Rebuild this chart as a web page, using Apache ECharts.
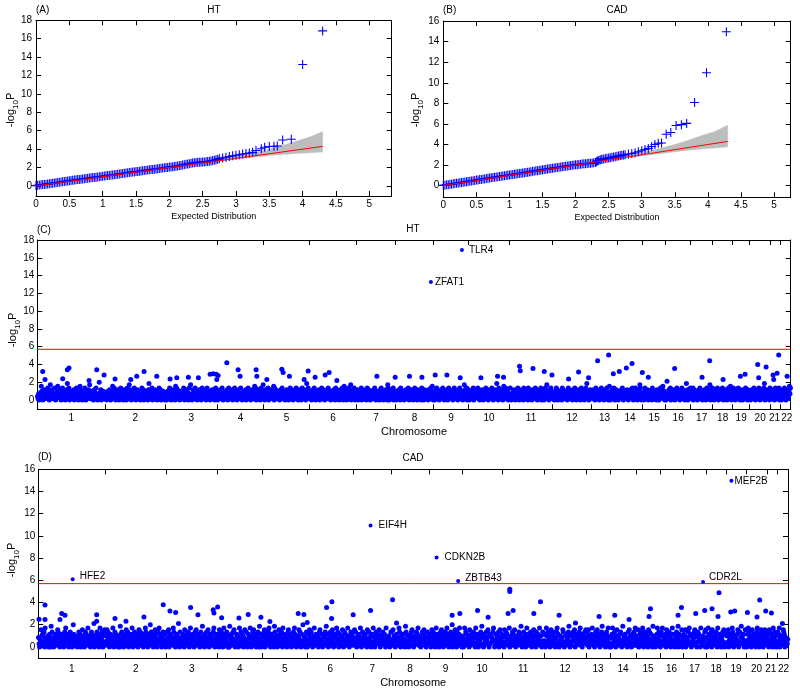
<!DOCTYPE html>
<html><head><meta charset="utf-8">
<script src="https://cdn.jsdelivr.net/npm/echarts@6/dist/echarts.min.js"></script>
<style>html,body{margin:0;padding:0;background:#fff}#c{width:800px;height:692px}</style>
</head><body><div id="c"></div>
<script>
// ================= DATA =================
const QQ_X_TICKS = [0, 0.5, 1, 1.5, 2, 2.5, 3, 3.5, 4, 4.5, 5];
const QQ_HT_Y_TICKS = [0, 2, 4, 6, 8, 10, 12, 14, 16, 18];
const QQ_CAD_Y_TICKS = [0, 2, 4, 6, 8, 10, 12, 14, 16];
// observed vs expected -log10 p (HT)
const QQ_HT = [[0,0.04],[0.025,0.07],[0.05,0.1],[0.075,0.12],[0.1,0.15],[0.125,0.17],[0.15,0.2],[0.175,0.22],[0.2,0.25],[0.225,0.28],[0.25,0.3],[0.275,0.33],[0.3,0.36],[0.325,0.38],[0.35,0.41],[0.375,0.43],[0.4,0.46],[0.425,0.49],[0.45,0.52],[0.475,0.54],[0.5,0.57],[0.525,0.6],[0.55,0.62],[0.575,0.65],[0.6,0.67],[0.625,0.69],[0.65,0.71],[0.675,0.74],[0.7,0.76],[0.725,0.79],[0.75,0.81],[0.775,0.84],[0.8,0.86],[0.825,0.88],[0.85,0.91],[0.875,0.93],[0.9,0.96],[0.925,0.98],[0.95,1.01],[0.975,1.03],[1.0,1.06],[1.025,1.08],[1.05,1.1],[1.075,1.13],[1.1,1.15],[1.125,1.18],[1.15,1.2],[1.175,1.22],[1.2,1.25],[1.225,1.27],[1.25,1.3],[1.275,1.32],[1.3,1.35],[1.325,1.38],[1.35,1.41],[1.375,1.43],[1.4,1.46],[1.425,1.48],[1.45,1.51],[1.475,1.53],[1.5,1.56],[1.525,1.58],[1.55,1.6],[1.575,1.63],[1.6,1.65],[1.625,1.67],[1.65,1.7],[1.675,1.73],[1.7,1.76],[1.725,1.78],[1.75,1.8],[1.775,1.82],[1.8,1.85],[1.825,1.87],[1.85,1.9],[1.875,1.92],[1.9,1.95],[1.925,1.97],[1.95,2.0],[1.975,2.02],[2.0,2.05],[2.025,2.07],[2.05,2.1],[2.075,2.12],[2.1,2.15],[2.125,2.17],[2.15,2.2],[2.175,2.23],[2.2,2.27],[2.225,2.31],[2.25,2.35],[2.275,2.38],[2.3,2.42],[2.325,2.46],[2.35,2.5],[2.375,2.53],[2.4,2.55],[2.425,2.57],[2.45,2.58],[2.475,2.59],[2.5,2.6],[2.525,2.61],[2.55,2.63],[2.575,2.65],[2.6,2.68],[2.625,2.72],[2.65,2.76],[2.675,2.8],[2.7,2.85],[2.725,2.91],[2.75,2.97],[2.8,3.05],[2.85,3.12],[2.9,3.2],[2.95,3.27],[3.0,3.33],[3.05,3.4],[3.1,3.47],[3.15,3.53],[3.2,3.58],[3.25,3.65],[3.3,3.85],[3.38,4.05],[3.43,4.2],[3.5,4.28],[3.57,4.32],[3.62,4.35],[3.7,5.0],[3.83,5.08],[4.0,13.2],[4.3,16.85]];
// observed vs expected -log10 p (CAD)
const QQ_CAD = [[0,0.03],[0.025,0.05],[0.05,0.08],[0.075,0.1],[0.1,0.13],[0.125,0.15],[0.15,0.18],[0.175,0.2],[0.2,0.23],[0.225,0.25],[0.25,0.28],[0.275,0.3],[0.3,0.33],[0.325,0.35],[0.35,0.38],[0.375,0.41],[0.4,0.44],[0.425,0.46],[0.45,0.49],[0.475,0.51],[0.5,0.54],[0.525,0.56],[0.55,0.59],[0.575,0.61],[0.6,0.64],[0.625,0.66],[0.65,0.69],[0.675,0.71],[0.7,0.74],[0.725,0.76],[0.75,0.79],[0.775,0.81],[0.8,0.84],[0.825,0.86],[0.85,0.89],[0.875,0.91],[0.9,0.94],[0.925,0.96],[0.95,0.99],[0.975,1.01],[1.0,1.04],[1.025,1.06],[1.05,1.09],[1.075,1.11],[1.1,1.14],[1.125,1.16],[1.15,1.19],[1.175,1.21],[1.2,1.24],[1.225,1.26],[1.25,1.29],[1.275,1.31],[1.3,1.34],[1.325,1.36],[1.35,1.39],[1.375,1.41],[1.4,1.44],[1.425,1.46],[1.45,1.49],[1.475,1.51],[1.5,1.54],[1.525,1.56],[1.55,1.59],[1.575,1.61],[1.6,1.64],[1.625,1.66],[1.65,1.69],[1.675,1.71],[1.7,1.74],[1.725,1.76],[1.75,1.79],[1.775,1.81],[1.8,1.84],[1.825,1.86],[1.85,1.89],[1.875,1.91],[1.9,1.94],[1.925,1.96],[1.95,1.99],[1.975,2.01],[2.0,2.03],[2.025,2.04],[2.05,2.05],[2.075,2.08],[2.1,2.1],[2.125,2.12],[2.15,2.13],[2.175,2.15],[2.2,2.17],[2.225,2.18],[2.25,2.2],[2.275,2.22],[2.3,2.25],[2.315,2.32],[2.33,2.4],[2.35,2.45],[2.37,2.5],[2.385,2.54],[2.4,2.57],[2.425,2.6],[2.45,2.63],[2.475,2.67],[2.5,2.7],[2.525,2.72],[2.55,2.75],[2.575,2.79],[2.6,2.82],[2.625,2.85],[2.65,2.88],[2.675,2.92],[2.7,2.95],[2.725,2.98],[2.75,3.0],[2.8,3.07],[2.85,3.13],[2.9,3.2],[2.95,3.3],[3.0,3.4],[3.05,3.52],[3.1,3.62],[3.15,3.8],[3.2,4.0],[3.25,4.12],[3.3,4.15],[3.37,5.0],[3.44,5.17],[3.52,5.85],[3.6,5.93],[3.68,6.05],[3.8,8.08],[3.98,10.97],[4.28,14.95]];
// confidence band
const QQ_BAND_X = [2.3, 2.5, 2.7, 2.9, 3.1, 3.3, 3.5, 3.7, 3.9, 4.1, 4.3];
const QQ_HT_LO  = [2.3, 2.48, 2.65, 2.82, 3.0, 3.15, 3.3, 3.42, 3.52, 3.6, 3.7];
const QQ_HT_HI  = [2.35, 2.6, 2.82, 3.08, 3.35, 3.65, 4.0, 4.4, 4.85, 5.3, 5.9];
const QQ_CAD_LO = [2.3, 2.48, 2.65, 2.82, 2.98, 3.13, 3.3, 3.45, 3.57, 3.67, 3.78];
const QQ_CAD_HI = [2.35, 2.6, 2.82, 3.08, 3.35, 3.65, 4.0, 4.4, 4.85, 5.25, 5.88];
const QQ_NULL = [[0, 0], [4.3, 4.3]];

const CHR_NAMES = ['1','2','3','4','5','6','7','8','9','10','11','12','13','14','15','16','17','18','19','20','21','22'];
const HT_CHR_SIZE  = [68,60,52,46,46,47,39,38,35,41,43,39,26,25,23,25,22,20,17,21,10,10];
const CAD_CHR_SIZE = [67,61,51,45,45,46,38,38,33,40,42,42,24,26,24,23,23,20,20,21,10,11];
const MH_Y_TICKS_HT = [0, 2, 4, 6, 8, 10, 12, 14, 16, 18];
const MH_Y_TICKS_CAD = [0, 2, 4, 6, 8, 10, 12, 14, 16];
const THRESHOLD = [5.7];
// -log10 p level for each hex code used in the bulk strings below
const BAND_LEVELS = [0, 0.14, 0.28, 0.42, 0.56, 0.7, 0.84, 0.98, 1.15, 1.35, 1.55, 1.7, 1.85, 2.0, 2.1, 2.25];
// bulk SNP -log10 p, per chromosome, one hex code per SNP
const HT_BAND = [
"3150426a7203481526394207b1586412950347a62583041927360518c43907152463805129437016a84605317940316285b71374205863915024d36805237146",
"25031746820413a27964031582407193625048137029451b38205714396205381472605394180271635408c23754906231847502619348025173640",
"41037256914028357160a29485120736417293054182630951b24038162953407218563049127538401962374051382716049527",
"06273815492036147528039614725803169425701382649150362714805239167405283615a2903748162059371b",
"35081627490513827461a09582417362058419372610548327016942583017462951308472601935847201c85936",
"174203586914027531860472931586042715398163045271834096251730684219507a381605249713b05826493071",
"48203516790248153760492185307641238594072615304829163057128460b930725816490357",
"2051748360931527406183542970315826407391526084317250962304857123608413957a20",
"6103829475102638459170326485019273645108297534160823951736024b83619057",
"80245136790153428697120345872061349257801346529170438152c6309714625803a57192648035",
"29403165782041359670821435709263481509274631085247391680425371906285031947b16203859741",
"51307629480135762409581236745019284367108523941067283450197324608195c372051846",
"37281405963271408529361407582391406a5017384295061837",
"10472638591027436582104738526910475928306147b93025",
"6203917458203716480932175640817205394628a15703",
"04316285790314268705139284670215938146072c58031649",
"72149058361240758392164057381602947385b02619",
"35082417693058214769305184620739158a2047",
"19473028561947302856031847952608137",
"40618372954061837295046183729c051846273095",
"25183640792518369047",
"80361729450361827a59"
];
const CAD_BAND = [
"62051a7384290b61537204860c195302748615a932074581630295b74816032957401d83625140739258016a4730295816b43720591836e04725913806b42597031a8",
"174a29530681471b20593861470250c83916405728a13960472581b3062947158302a649175830264b917502836d491720358a6140293b85720469135802",
"3916a04827153b962048173e50936142870a5318269403b7258140693a17258304961c2750831946a2058371649b305827",
"5820a14697302b58164930700c25816394a2053817602b4591837062a5194038162b705392a61840273950c18306",
"2739a05184629b3701582640c93175024a8361950b2847163059a28174036295b81402736a5910284d37160592",
"0481a62935072b5184637029a51840372691c58302469175a3082617b4950382167a405928316b4702593816",
"63a1940275816b302947518630a2495170382b6104972538a601374925830b165274039",
"915a2740386152b93076481520c94713025869a1403726958b1462037958a316049275",
"48201a63975204b8136207594a1830265947b1850372946d01853a72094618b52730",
"2705b19384620a5183749260b1835027496c1802753946a108273659b40185273904a618",
"1630a72948513b062749183a50627149385c2061947305b827164930825a7130962845b17302948",
"8402b71936502a84173950629b1840372561a93027148659c2037184956a0381527496b1380247593a",
"5917a036284b51702936a48150279c3618402957b306",
"2068b1479305a7261849302c57183640291a5730286194b1",
"7351a02849617b30592847160a39528140c73620148b53927",
"0492b7136580a4127936052b8413075926c084127a05",
"3817a0526493b7120385469a17203968540b312746590a",
"6205b8314790a5123867940b23518706493a2081",
"1739a0462851b9307162548a301926c4758201a3",
"4082b5917306a481527039b6410825a973016a8249",
"7150a3928460b1593702",
"2948b0617352a980461325"
];
// individual stronger signals [genome position, -log10 p]
const HT_PEAKS = [[5.4,3.2],[31.7,3.6],[30,3.4],[59.4,3.4],[66.7,2.8],[106.7,3.2],[189.4,4.2],[200.7,3.4],[218.7,3.4],[244.4,3.45],[245.7,3.1],[270.7,3.25],[291.7,3.1],[172.7,2.9],[175.7,2.95],[178.7,2.9],[180.7,2.75],[571,5.06],[560,4.4],[594.4,4.1],[588.7,3.6],[672,4.4],[741,5.06],[720,4.0],[728.4,3.7],[637,3.55],[482,3.8],[495.4,3.55],[506.7,3.2],[482.7,3.3],[581.7,3.2],[575.7,2.95],[604.7,3.1],[610.7,2.55],[707.4,2.9],[735.4,2.8],[739.4,3.0],
[7.7,2.3],[25.4,2.4],[51.7,2.2],[77.7,2.36],[93.4,2.3],[99.4,2.67],[119.4,2.67],[132.7,2.36],[139.4,2.5],[151,2.55],[161,2.5],[179.4,2.3],[202.7,2.67],[219.4,2.67],[229.4,2.3],[252,2.67],[266.7,2.3],[277.7,2.55],[287.7,2.8],[299.4,2.2],[339.4,2.67],[357.7,2.55],[372,2.67],[384.4,2.55],[397.7,2.8],[409.4,2.8],[422.7,2.5],[443.4,2.5],[460,2.67],[466,2.55],[514.4,2.8],[531,2.36],[541,3.15],[551,2.5],[629.4,2.1],[664.4,2.55],[685.4,2.3],[702.7,2.67],[721,2.5],[736,2.3],[749.4,2.67]];
const CAD_PEAKS = [[6.7,3.77],[6.7,2.46],[0.7,2.5],[23.4,3.0],[26.7,2.85],[21.7,2.46],[58.4,2.9],[58.4,2.3],[76.7,2.55],[87.7,2.3],[105.7,2.7],[125,3.8],[131.7,3.23],[137.4,3.1],[152.4,3.56],[159.7,2.9],[175,3.35],[179.4,3.6],[175.7,3.05],[183.4,2.63],[200.7,2.6],[210,2.93],[222.7,2.66],[231.7,2.28],[260,3.0],[265.7,2.93],[269,2.2],[288.4,3.56],[293.7,4.07],[293.4,2.55],[315,2.9],[332.4,3.29],[354.4,4.25],[358.4,2.15],
[471.7,5.2],[471.7,5.0],[502.4,4.07],[470,3.0],[475,3.29],[439.4,3.29],[450,2.66],[414,2.85],[421.7,3.0],[495.7,3.0],[521,2.85],[537.4,2.15],[561,2.75],[576.7,2.85],[591,2.46],[612.4,3.44],[611,2.75],[643.4,3.56],[640,2.85],[657.7,3.0],[666.7,3.29],[674,3.44],[681,4.88],[680,2.75],[692.7,3.14],[696.7,3.23],[709.4,3.1],[721.7,4.22],[727.7,3.23],[733.4,3.05],[719,2.7],[744.4,2.1]];
const HT_GENES  = [['TLR4',424.4,16.87],['ZFAT1',393.4,13.27]];
const CAD_GENES = [['HFE2',34.4,6.1],['EIF4H',332.4,10.93],['CDKN2B',398.4,8.06],['ZBTB43',420,5.93],['CDR2L',665,5.85],['MEF2B',693.4,14.96]];

// ================= STYLE / LAYOUT =================
const FONT = '"Liberation Sans", Arial, Helvetica, sans-serif';
const BLUE = '#0000ff', RED = '#ff0000', GRAY = '#bdbdbd';
const LABEL_OFFSET = {TLR4:[5,0], ZFAT1:[2,0], HFE2:[5,-3], EIF4H:[6,0], CDKN2B:[6,0], ZBTB43:[5,-3], CDR2L:[4,-5], MEF2B:[1,0]};
const PLUS = 'path://M4.4,0H5.6V4.4H10V5.6H5.6V10H4.4V5.6H0V4.4H4.4Z';
// small spread so the tightly packed labels of chromosomes 21 and 22 both fit
const LABEL_NUDGE = {20:-1.2, 21:1.0};

function sum(a){return a.reduce((s,v)=>s+v,0);}
function offsets(sizes){const o=[];let c=0;sizes.forEach(s=>{o.push(c);c+=s;});return o;}
function boundaries(sizes){const o=[];let c=0;sizes.slice(0,-1).forEach(s=>{c+=s;o.push(c);});return o;}
function centers(sizes){const off=offsets(sizes);return sizes.map((s,i)=>off[i]+s/2);}
function labelPos(sizes){return centers(sizes).map((c,i)=>c+(LABEL_NUDGE[i]||0));}
function bandPoints(strs,sizes){
  const off=offsets(sizes);const pts=[];
  strs.forEach((s,c)=>{for(let i=0;i<s.length;i++){pts.push([off[c]+(i+0.5)/s.length*sizes[c],BAND_LEVELS[parseInt(s[i],16)]]);}});
  return pts;
}

const lineStyleK = {color:'#000', width:1};
function xAxisPair(grid,min,max,ticks,labels,fmt,name,gap,nameSize,margin){
  return [{
    type:'value',gridIndex:grid,min:min,max:max,position:'bottom',
    axisLine:{show:true,onZero:false,lineStyle:lineStyleK},
    axisTick:{show:true,inside:true,length:5,customValues:ticks,lineStyle:lineStyleK},
    axisLabel:{show:true,customValues:labels,formatter:fmt,color:'#000',fontSize:10,fontFamily:FONT,margin:margin,hideOverlap:false,showMinLabel:true,showMaxLabel:true},
    splitLine:{show:false},
    name:name,nameLocation:'middle',nameGap:gap,nameTextStyle:{color:'#000',fontSize:nameSize,fontFamily:FONT}
  },{
    type:'value',gridIndex:grid,min:min,max:max,position:'top',
    axisLine:{show:true,onZero:false,lineStyle:lineStyleK},
    axisTick:{show:true,inside:true,length:5,customValues:ticks,lineStyle:lineStyleK},
    axisLabel:{show:false},splitLine:{show:false}
  }];
}
function yAxisPair(grid,min,max,ticks,margin){
  return [{
    type:'value',gridIndex:grid,min:min,max:max,position:'left',
    axisLine:{show:true,onZero:false,lineStyle:lineStyleK},
    axisTick:{show:true,inside:true,length:5,customValues:ticks,lineStyle:lineStyleK},
    axisLabel:{show:true,customValues:ticks,color:'#000',fontSize:10,fontFamily:FONT,margin:margin,showMinLabel:true,showMaxLabel:true},
    splitLine:{show:false}
  },{
    type:'value',gridIndex:grid,min:min,max:max,position:'right',
    axisLine:{show:true,onZero:false,lineStyle:lineStyleK},
    axisTick:{show:true,inside:true,length:5,customValues:ticks,lineStyle:lineStyleK},
    axisLabel:{show:false},splitLine:{show:false}
  }];
}

const numFmt = v => String(Math.round(v*10)/10);
function chrFmt(sizes){const c=labelPos(sizes);return v=>{let b=0,d=1e9;c.forEach((x,i)=>{if(Math.abs(x-v)<d){d=Math.abs(x-v);b=i;}});return CHR_NAMES[b];};}

const HT_TOTAL = sum(HT_CHR_SIZE), CAD_TOTAL = sum(CAD_CHR_SIZE);

const grids = [
  {left:36, top:20.3, width:355.7, height:175.7},
  {left:443.3, top:21, width:347.4, height:176.3},
  {left:37.3, top:240, width:753.4, height:169.3},
  {left:38.3, top:469.3, width:749.7, height:188.7}
].map(g=>Object.assign({containLabel:false,outerBoundsMode:'none'},g));

const xAxes = [].concat(
  xAxisPair(0,0,5.336,QQ_X_TICKS,QQ_X_TICKS,numFmt,'Expected Distribution',16,9,3),
  xAxisPair(1,0,5.253,QQ_X_TICKS,QQ_X_TICKS,numFmt,'Expected Distribution',16,9,3),
  xAxisPair(2,0,HT_TOTAL,boundaries(HT_CHR_SIZE),labelPos(HT_CHR_SIZE),chrFmt(HT_CHR_SIZE),'Chromosome',17,11,4),
  xAxisPair(3,0,CAD_TOTAL,boundaries(CAD_CHR_SIZE),labelPos(CAD_CHR_SIZE),chrFmt(CAD_CHR_SIZE),'Chromosome',19,11,6)
);
const yAxes = [].concat(
  yAxisPair(0,-1.09,18,QQ_HT_Y_TICKS,4),
  yAxisPair(1,-1.13,16,QQ_CAD_Y_TICKS,4),
  yAxisPair(2,-1.05,18,MH_Y_TICKS_HT,3),
  yAxisPair(3,-1.0,16,MH_Y_TICKS_CAD,3)
);

function qqSeries(pts,lo,hi){
  return [
    {type:'custom',data:[[0,0]],silent:true,z:1,
      renderItem:(params,api)=>{
        const p=[];
        QQ_BAND_X.forEach((x,i)=>p.push(api.coord([x,hi[i]])));
        for(let i=QQ_BAND_X.length-1;i>=0;i--)p.push(api.coord([QQ_BAND_X[i],lo[i]]));
        return {type:'polygon',shape:{points:p},style:{fill:GRAY,stroke:GRAY,lineWidth:0.5}};
      }},
    {type:'scatter',data:pts,symbol:PLUS,symbolSize:9,itemStyle:{color:BLUE,opacity:1},silent:true,z:2},
    {type:'line',data:QQ_NULL,symbol:'none',lineStyle:{color:RED,width:1},silent:true,z:3}
  ];
}
function mhSeries(band,sizes,peaks,genes,total){
  const dot = {symbol:'circle',symbolSize:5,itemStyle:{color:BLUE,opacity:1},silent:true};
  return [
    Object.assign({type:'scatter',data:bandPoints(band,sizes),large:false,z:2},dot),
    Object.assign({type:'scatter',data:peaks,z:2},dot),
    Object.assign({type:'scatter',z:4,
      data:genes.map(g=>({name:g[0],value:[g[1],g[2]],label:{offset:LABEL_OFFSET[g[0]]||[0,0]}})),
      label:{show:true,position:'right',distance:0,formatter:'{b}',color:'#000',fontSize:10,fontFamily:FONT}},dot,{symbolSize:4}),
    {type:'line',data:[[0,THRESHOLD[0]],[total,THRESHOLD[0]]],symbol:'none',lineStyle:{color:RED,width:1},silent:true,z:3}
  ];
}
function remap(arr,xi,yi){return arr.map(s=>Object.assign(s,{xAxisIndex:xi,yAxisIndex:yi}));}
const allSeries = [].concat(
  remap(qqSeries(QQ_HT,QQ_HT_LO,QQ_HT_HI),0,0),
  remap(qqSeries(QQ_CAD,QQ_CAD_LO,QQ_CAD_HI),2,2),
  remap(mhSeries(HT_BAND,HT_CHR_SIZE,HT_PEAKS,HT_GENES,HT_TOTAL),4,4),
  remap(mhSeries(CAD_BAND,CAD_CHR_SIZE,CAD_PEAKS,CAD_GENES,CAD_TOTAL),6,6)
);

function txt(x,y,t,align,size){return {type:'text',x:x,y:y,silent:true,style:{text:t,fill:'#000',font:(size||10)+'px '+FONT,textAlign:align||'left',textVerticalAlign:'middle'}};}
function yName(x,y){return {type:'text',x:x,y:y,rotation:Math.PI/2,silent:true,
  style:{text:'-log{s|10}P',fill:'#000',fontSize:11,fontFamily:FONT,lineHeight:18,align:'center',verticalAlign:'middle',
    rich:{s:{fontSize:8,lineHeight:8,verticalAlign:'bottom',fontFamily:FONT,fill:'#000'}}}};}
const graphics = [
  txt(36,10,'(A)'), txt(214,10,'HT','center'),
  txt(443,10,'(B)'), txt(617,10,'CAD','center'),
  txt(37,230,'(C)'), txt(413,229,'HT','center'),
  txt(38,457,'(D)'), txt(413,458,'CAD','center'),
  yName(11,110), yName(416,110), yName(13,330), yName(12,560)
];

const chart = echarts.init(document.getElementById('c'),null,{renderer:'canvas'});
chart.setOption({
  animation:false,
  backgroundColor:'#fff',
  grid:grids,
  xAxis:xAxes,
  yAxis:yAxes,
  series:allSeries,
  graphic:graphics
});
</script></body></html>
